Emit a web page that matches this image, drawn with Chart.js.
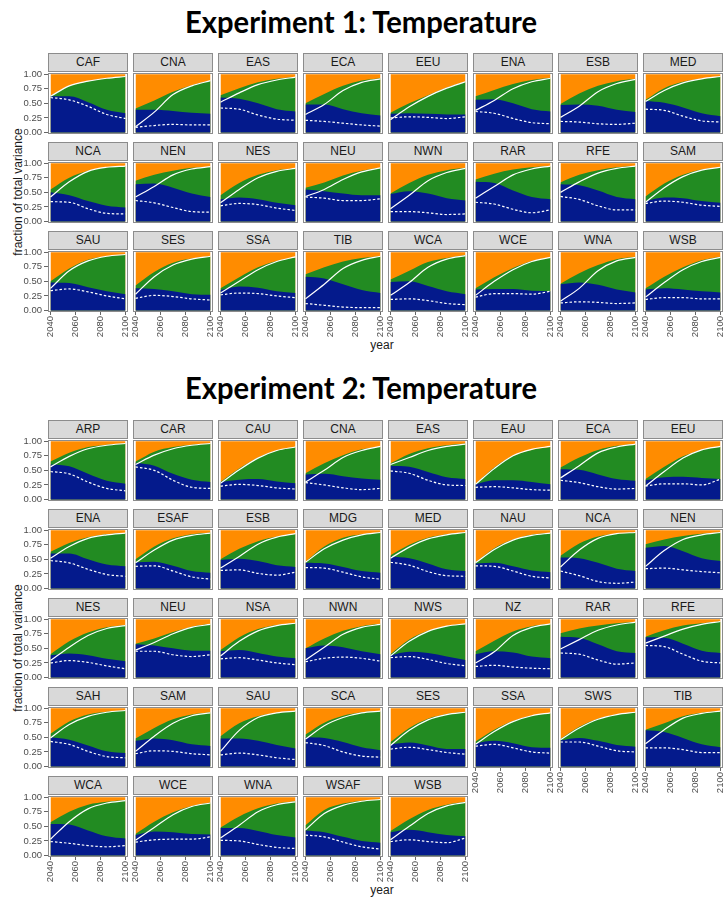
<!DOCTYPE html>
<html>
<head>
<meta charset="utf-8">
<script src="https://cdn.jsdelivr.net/npm/chart.js@4.4.1/dist/chart.umd.min.js"></script>
<style>
  body { margin: 0; background: #fff; }
  #page { position: relative; width: 723px; height: 899px; overflow: hidden; font-family: "Liberation Sans", Arial, sans-serif; }
  .title { position: absolute; left: 0; width: 723px; text-align: center; font-family: Lato, "Open Sans", sans-serif; font-weight: 700; font-size: 30px; color: #000; white-space: nowrap; }
  .strip { position: absolute; box-sizing: border-box; width: 80px; height: 19px; background: #d9d9d9; border: 1px solid #8c8c8c; text-align: center; font-size: 12px; line-height: 17px; color: #1a1a1a; }
  .frame { position: absolute; box-sizing: border-box; width: 80px; height: 61px; border: 1px solid #8c8c8c; pointer-events: none; z-index: 2; }
  canvas { position: absolute; z-index: 1; }
  .ylab { position: absolute; width: 240px; margin-left: -120px; text-align: center; font-size: 12px; color: #1a1a1a; transform: rotate(-90deg); }
  .xlab { position: absolute; width: 100px; margin-left: -50px; text-align: center; font-size: 12px; color: #1a1a1a; }
</style>
</head>
<body>
<div id="page">
  <div class="title" style="top:3px">Experiment 1: Temperature</div>
  <div class="title" style="top:369px">Experiment 2: Temperature</div>
  <div class="ylab" style="left:18px; top:185px">fraction of total variance</div>
  <div class="ylab" style="left:18px; top:641px">fraction of total variance</div>
  <div class="xlab" style="left:382px; top:338px">year</div>
  <div class="xlab" style="left:382px; top:883px">year</div>
</div>
<script>
// values read at these years
const years = [2040, 2055, 2070, 2085, 2100];
const xTicks = [2040, 2060, 2080, 2100];
const yTicks = [0, 0.25, 0.5, 0.75, 1];

const exp1Regions = ['CAF','CNA','EAS','ECA','EEU','ENA','ESB','MED',
                     'NCA','NEN','NES','NEU','NWN','RAR','RFE','SAM',
                     'SAU','SES','SSA','TIB','WCA','WCE','WNA','WSB'];
// top of the blue band
const exp1Blue = [
  [0.62,0.62,0.52,0.39,0.33],[0.39,0.39,0.37,0.34,0.32],[0.60,0.58,0.50,0.40,0.36],[0.48,0.48,0.40,0.33,0.29],
  [0.32,0.33,0.32,0.31,0.31],[0.56,0.57,0.50,0.40,0.36],[0.47,0.48,0.46,0.39,0.35],[0.54,0.51,0.43,0.33,0.28],
  [0.50,0.45,0.35,0.27,0.24],[0.64,0.65,0.58,0.48,0.42],[0.38,0.41,0.38,0.32,0.28],[0.55,0.52,0.48,0.45,0.45],
  [0.47,0.52,0.48,0.40,0.36],[0.68,0.66,0.53,0.42,0.38],[0.64,0.62,0.53,0.42,0.38],[0.35,0.41,0.40,0.35,0.32],
  [0.48,0.47,0.40,0.33,0.28],[0.38,0.37,0.33,0.28,0.27],[0.35,0.41,0.39,0.33,0.30],[0.58,0.55,0.45,0.35,0.30],
  [0.49,0.50,0.42,0.33,0.28],[0.36,0.37,0.37,0.34,0.33],[0.45,0.48,0.44,0.36,0.31],[0.36,0.38,0.36,0.33,0.31]
];
// top of the green band (blue + green)
const exp1Green = [
  [0.63,0.80,0.88,0.93,0.96],[0.41,0.55,0.70,0.81,0.89],[0.64,0.76,0.86,0.92,0.95],[0.50,0.66,0.80,0.89,0.93],
  [0.34,0.50,0.64,0.77,0.87],[0.62,0.73,0.83,0.90,0.94],[0.49,0.67,0.80,0.88,0.92],[0.56,0.76,0.87,0.92,0.96],
  [0.55,0.75,0.87,0.93,0.95],[0.70,0.80,0.87,0.92,0.94],[0.45,0.66,0.80,0.88,0.91],[0.58,0.67,0.79,0.87,0.92],
  [0.48,0.66,0.80,0.88,0.92],[0.72,0.82,0.89,0.93,0.95],[0.67,0.80,0.88,0.93,0.95],[0.43,0.65,0.80,0.89,0.93],
  [0.50,0.72,0.87,0.93,0.96],[0.43,0.66,0.82,0.89,0.93],[0.38,0.57,0.74,0.85,0.91],[0.62,0.74,0.84,0.90,0.93],
  [0.53,0.68,0.83,0.90,0.95],[0.38,0.57,0.73,0.85,0.91],[0.46,0.64,0.78,0.88,0.92],[0.38,0.58,0.74,0.86,0.92]
];
const exp1Solid = [
  [0.62,0.80,0.88,0.93,0.96],[0.10,0.35,0.65,0.80,0.89],[0.52,0.68,0.82,0.90,0.95],[0.31,0.48,0.72,0.86,0.92],
  [0.22,0.44,0.62,0.76,0.87],[0.38,0.55,0.75,0.87,0.93],[0.26,0.45,0.70,0.84,0.91],[0.53,0.72,0.85,0.92,0.96],
  [0.42,0.68,0.86,0.93,0.95],[0.42,0.60,0.80,0.90,0.94],[0.32,0.55,0.75,0.86,0.91],[0.43,0.55,0.72,0.85,0.92],
  [0.22,0.45,0.70,0.84,0.91],[0.40,0.60,0.80,0.90,0.95],[0.50,0.68,0.83,0.91,0.95],[0.33,0.58,0.77,0.88,0.93],
  [0.38,0.68,0.85,0.93,0.96],[0.28,0.58,0.78,0.88,0.93],[0.30,0.50,0.70,0.84,0.92],[0.20,0.45,0.72,0.86,0.93],
  [0.26,0.48,0.74,0.88,0.94],[0.26,0.50,0.70,0.84,0.91],[0.16,0.38,0.68,0.85,0.91],[0.23,0.48,0.70,0.84,0.91]
];
const exp1Dashed = [
  [0.60,0.56,0.45,0.31,0.24],[0.09,0.12,0.14,0.13,0.13],[0.42,0.40,0.30,0.23,0.21],[0.21,0.19,0.16,0.13,0.11],
  [0.25,0.27,0.26,0.24,0.27],[0.36,0.33,0.24,0.17,0.15],[0.19,0.18,0.15,0.14,0.16],[0.40,0.38,0.28,0.20,0.18],
  [0.34,0.33,0.22,0.14,0.13],[0.36,0.32,0.24,0.17,0.16],[0.27,0.31,0.29,0.23,0.19],[0.42,0.40,0.36,0.36,0.39],
  [0.17,0.17,0.15,0.12,0.13],[0.33,0.30,0.21,0.15,0.20],[0.43,0.38,0.27,0.20,0.20],[0.31,0.35,0.33,0.28,0.26],
  [0.34,0.37,0.32,0.25,0.20],[0.21,0.26,0.24,0.20,0.18],[0.27,0.30,0.29,0.25,0.22],[0.12,0.09,0.06,0.05,0.05],
  [0.19,0.20,0.17,0.12,0.10],[0.23,0.29,0.29,0.28,0.33],[0.13,0.15,0.14,0.12,0.13],[0.19,0.22,0.22,0.20,0.20]
];

const exp2Regions = ['ARP','CAR','CAU','CNA','EAS','EAU','ECA','EEU',
                     'ENA','ESAF','ESB','MDG','MED','NAU','NCA','NEN',
                     'NES','NEU','NSA','NWN','NWS','NZ','RAR','RFE',
                     'SAH','SAM','SAU','SCA','SES','SSA','SWS','TIB',
                     'WCA','WCE','WNA','WSAF','WSB'];
const exp2Blue = [
  [0.60,0.57,0.44,0.32,0.27],[0.63,0.58,0.44,0.34,0.30],[0.30,0.34,0.35,0.31,0.28],[0.43,0.44,0.40,0.36,0.34],
  [0.58,0.56,0.47,0.38,0.35],[0.26,0.33,0.33,0.30,0.26],[0.52,0.51,0.43,0.35,0.32],[0.33,0.38,0.39,0.37,0.35],
  [0.60,0.60,0.50,0.41,0.38],[0.45,0.46,0.39,0.30,0.27],[0.49,0.51,0.47,0.40,0.37],[0.44,0.43,0.37,0.30,0.27],
  [0.55,0.52,0.43,0.33,0.30],[0.43,0.44,0.38,0.31,0.28],[0.53,0.52,0.44,0.34,0.30],[0.70,0.73,0.64,0.52,0.47],
  [0.38,0.41,0.38,0.32,0.28],[0.57,0.55,0.50,0.46,0.46],[0.45,0.47,0.42,0.36,0.33],[0.50,0.55,0.52,0.45,0.40],
  [0.38,0.44,0.42,0.36,0.30],[0.40,0.45,0.43,0.36,0.33],[0.70,0.68,0.57,0.45,0.42],[0.69,0.68,0.58,0.46,0.42],
  [0.50,0.46,0.36,0.26,0.23],[0.44,0.48,0.45,0.38,0.35],[0.48,0.48,0.44,0.37,0.31],[0.50,0.49,0.42,0.33,0.28],
  [0.38,0.41,0.36,0.30,0.30],[0.40,0.44,0.40,0.33,0.32],[0.45,0.49,0.44,0.37,0.34],[0.62,0.59,0.49,0.38,0.33],
  [0.54,0.53,0.43,0.33,0.29],[0.35,0.41,0.40,0.37,0.36],[0.47,0.47,0.42,0.35,0.31],[0.43,0.40,0.32,0.25,0.22],
  [0.40,0.44,0.40,0.35,0.33]
];
const exp2Green = [
  [0.65,0.80,0.90,0.94,0.96],[0.65,0.82,0.90,0.94,0.96],[0.30,0.53,0.72,0.84,0.90],[0.45,0.62,0.76,0.86,0.91],
  [0.62,0.78,0.88,0.93,0.96],[0.27,0.55,0.75,0.85,0.90],[0.55,0.72,0.85,0.92,0.95],[0.35,0.56,0.74,0.85,0.91],
  [0.63,0.78,0.88,0.93,0.95],[0.50,0.72,0.86,0.93,0.96],[0.50,0.68,0.81,0.89,0.94],[0.46,0.72,0.87,0.93,0.96],
  [0.57,0.75,0.87,0.93,0.96],[0.45,0.69,0.84,0.92,0.95],[0.56,0.77,0.89,0.94,0.96],[0.76,0.84,0.90,0.94,0.96],
  [0.40,0.62,0.77,0.86,0.90],[0.58,0.67,0.78,0.87,0.92],[0.47,0.69,0.83,0.90,0.93],[0.50,0.67,0.80,0.88,0.92],
  [0.40,0.65,0.80,0.88,0.92],[0.45,0.63,0.79,0.88,0.92],[0.76,0.84,0.89,0.93,0.95],[0.70,0.81,0.89,0.93,0.96],
  [0.56,0.77,0.89,0.94,0.96],[0.48,0.66,0.81,0.89,0.93],[0.52,0.74,0.86,0.92,0.95],[0.55,0.75,0.87,0.93,0.95],
  [0.42,0.66,0.82,0.90,0.94],[0.43,0.63,0.78,0.87,0.92],[0.47,0.68,0.82,0.89,0.93],[0.63,0.74,0.86,0.92,0.95],
  [0.57,0.75,0.87,0.92,0.95],[0.37,0.58,0.74,0.85,0.91],[0.48,0.67,0.81,0.89,0.93],[0.52,0.78,0.89,0.94,0.96],
  [0.42,0.62,0.78,0.87,0.92]
];
const exp2Solid = [
  [0.56,0.74,0.87,0.93,0.96],[0.60,0.76,0.87,0.93,0.96],[0.28,0.51,0.71,0.84,0.90],[0.30,0.50,0.72,0.84,0.91],
  [0.60,0.72,0.84,0.91,0.95],[0.26,0.53,0.75,0.86,0.91],[0.37,0.58,0.80,0.90,0.95],[0.23,0.48,0.71,0.85,0.91],
  [0.52,0.72,0.86,0.92,0.95],[0.44,0.66,0.83,0.91,0.95],[0.35,0.55,0.76,0.88,0.94],[0.45,0.68,0.83,0.92,0.96],
  [0.52,0.71,0.85,0.92,0.96],[0.44,0.67,0.83,0.91,0.95],[0.37,0.66,0.86,0.94,0.96],[0.38,0.65,0.84,0.92,0.96],
  [0.29,0.52,0.72,0.84,0.89],[0.47,0.60,0.75,0.86,0.91],[0.37,0.62,0.80,0.89,0.93],[0.30,0.52,0.74,0.86,0.91],
  [0.37,0.62,0.79,0.88,0.92],[0.25,0.44,0.72,0.86,0.92],[0.49,0.65,0.81,0.90,0.95],[0.59,0.71,0.83,0.91,0.96],
  [0.49,0.72,0.86,0.93,0.96],[0.26,0.52,0.74,0.87,0.92],[0.26,0.62,0.84,0.92,0.95],[0.47,0.70,0.84,0.92,0.95],
  [0.36,0.62,0.80,0.89,0.93],[0.38,0.60,0.77,0.87,0.92],[0.46,0.66,0.81,0.89,0.93],[0.39,0.63,0.83,0.91,0.95],
  [0.28,0.58,0.80,0.90,0.94],[0.26,0.48,0.70,0.84,0.90],[0.30,0.52,0.75,0.87,0.92],[0.44,0.72,0.86,0.93,0.96],
  [0.27,0.50,0.72,0.85,0.91]
];
const exp2Dashed = [
  [0.48,0.44,0.30,0.19,0.15],[0.56,0.50,0.33,0.21,0.19],[0.23,0.26,0.24,0.20,0.18],[0.29,0.25,0.20,0.17,0.19],
  [0.49,0.45,0.33,0.25,0.24],[0.21,0.22,0.20,0.17,0.16],[0.33,0.29,0.22,0.18,0.19],[0.23,0.27,0.27,0.25,0.35],
  [0.48,0.44,0.33,0.24,0.21],[0.38,0.39,0.30,0.20,0.16],[0.31,0.32,0.26,0.23,0.28],[0.36,0.35,0.28,0.20,0.16],
  [0.45,0.40,0.29,0.22,0.21],[0.39,0.38,0.30,0.21,0.18],[0.30,0.22,0.12,0.09,0.11],[0.34,0.35,0.32,0.29,0.27],
  [0.25,0.29,0.26,0.20,0.15],[0.45,0.45,0.39,0.36,0.39],[0.32,0.34,0.30,0.25,0.22],[0.27,0.33,0.35,0.33,0.28],
  [0.34,0.36,0.31,0.24,0.20],[0.19,0.21,0.18,0.16,0.15],[0.42,0.40,0.30,0.23,0.25],[0.55,0.53,0.40,0.28,0.25],
  [0.43,0.38,0.26,0.17,0.15],[0.22,0.27,0.26,0.22,0.20],[0.20,0.23,0.20,0.15,0.12],[0.41,0.36,0.25,0.18,0.16],
  [0.30,0.33,0.29,0.24,0.21],[0.35,0.38,0.32,0.25,0.23],[0.42,0.42,0.35,0.27,0.25],[0.32,0.32,0.29,0.24,0.24],
  [0.24,0.21,0.17,0.15,0.17],[0.23,0.27,0.28,0.28,0.32],[0.26,0.25,0.19,0.14,0.12],[0.35,0.32,0.23,0.15,0.11],
  [0.24,0.27,0.24,0.22,0.30]
];

const BLUE = '#041a8c';
const GREEN = '#228b22';
const ORANGE = '#ff8c00';
const TICK_FONT = { family: '"Liberation Sans", Arial, sans-serif', size: 9.5 };

const page = document.getElementById('page');

function pts(vals) {
  return years.map((yr, k) => ({ x: yr, y: vals[k] }));
}

function band(vals, color) {
  return { data: pts(vals), fill: 'origin', backgroundColor: color, borderColor: color, borderWidth: 0 };
}

function drawExperiment(regions, blue, green, solid, dashed, stripTop) {
  regions.forEach((name, i) => {
    const col = i % 8, row = Math.floor(i / 8);
    const px = 48 + col * 85;
    const st = stripTop + row * 89;
    const py = st + 20;
    const firstCol = col === 0;
    const hasX = i + 8 >= regions.length; // no panel below

    const strip = document.createElement('div');
    strip.className = 'strip';
    strip.style.left = px + 'px';
    strip.style.top = st + 'px';
    strip.textContent = name;
    page.appendChild(strip);

    const frame = document.createElement('div');
    frame.className = 'frame';
    frame.style.left = px + 'px';
    frame.style.top = py + 'px';
    page.appendChild(frame);

    const L = firstCol ? 48 : 6, B = hasX ? 28 : 6;
    const cv = document.createElement('canvas');
    cv.width = L + 80 + 6;
    cv.height = 6 + 61 + B;
    cv.style.left = (px - L) + 'px';
    cv.style.top = (py - 6) + 'px';
    page.appendChild(cv);

    new Chart(cv, {
      type: 'line',
      data: {
        datasets: [
          band(blue[i], BLUE),
          band(green[i], GREEN),
          band(years.map(() => 1), ORANGE),
          { data: pts(solid[i]), fill: false, borderColor: '#ffffff', borderWidth: 1.2 },
          { data: pts(dashed[i]), fill: false, borderColor: '#ffffff', borderWidth: 1.2, borderDash: [2.5, 2] }
        ]
      },
      options: {
        responsive: false,
        animation: false,
        events: [],
        devicePixelRatio: 1,
        layout: { padding: { left: firstCol ? 0 : 6, top: 6, right: 6, bottom: hasX ? 0 : 6 } },
        elements: {
          point: { radius: 0 },
          line: { cubicInterpolationMode: 'monotone' }
        },
        plugins: {
          legend: { display: false },
          tooltip: { enabled: false },
          filler: { drawTime: 'beforeDatasetsDraw' }
        },
        scales: {
          x: {
            type: 'linear',
            min: 2038,
            max: 2102,
            display: hasX,
            afterBuildTicks: s => { s.ticks = xTicks.map(v => ({ value: v })); },
            // keep the plot box fixed: no extra room for the rotated labels
            afterFit: s => {
              if (hasX) s.height = B;
              s.paddingLeft = 0;
              s.paddingRight = 0;
            },
            ticks: { autoSkip: false, minRotation: 90, maxRotation: 90, padding: 1, color: '#4d4d4d', font: TICK_FONT, callback: v => String(v) },
            grid: { drawOnChartArea: false, tickLength: 3, color: '#666' },
            border: { display: false }
          },
          y: {
            min: -0.025,
            max: 1.02,
            display: firstCol,
            afterBuildTicks: s => { s.ticks = yTicks.map(v => ({ value: v })); },
            afterFit: s => {
              if (firstCol) s.width = L;
              s.paddingTop = 0;
              s.paddingBottom = 0;
            },
            ticks: { padding: 2, color: '#4d4d4d', font: TICK_FONT, callback: v => v.toFixed(2) },
            grid: { drawOnChartArea: false, tickLength: 4, color: '#666' },
            border: { display: false }
          }
        }
      }
    });
  });
}

drawExperiment(exp1Regions, exp1Blue, exp1Green, exp1Solid, exp1Dashed, 53);
drawExperiment(exp2Regions, exp2Blue, exp2Green, exp2Solid, exp2Dashed, 420);

// squeeze the titles to the reference width
document.querySelectorAll('.title').forEach(t => {
  const span = document.createElement('span');
  span.textContent = t.textContent;
  span.style.display = 'inline-block';
  t.textContent = '';
  t.appendChild(span);
  const w = span.getBoundingClientRect().width;
  span.style.transform = 'scaleX(' + (352 / w).toFixed(3) + ')';
});
</script>
</body>
</html>
